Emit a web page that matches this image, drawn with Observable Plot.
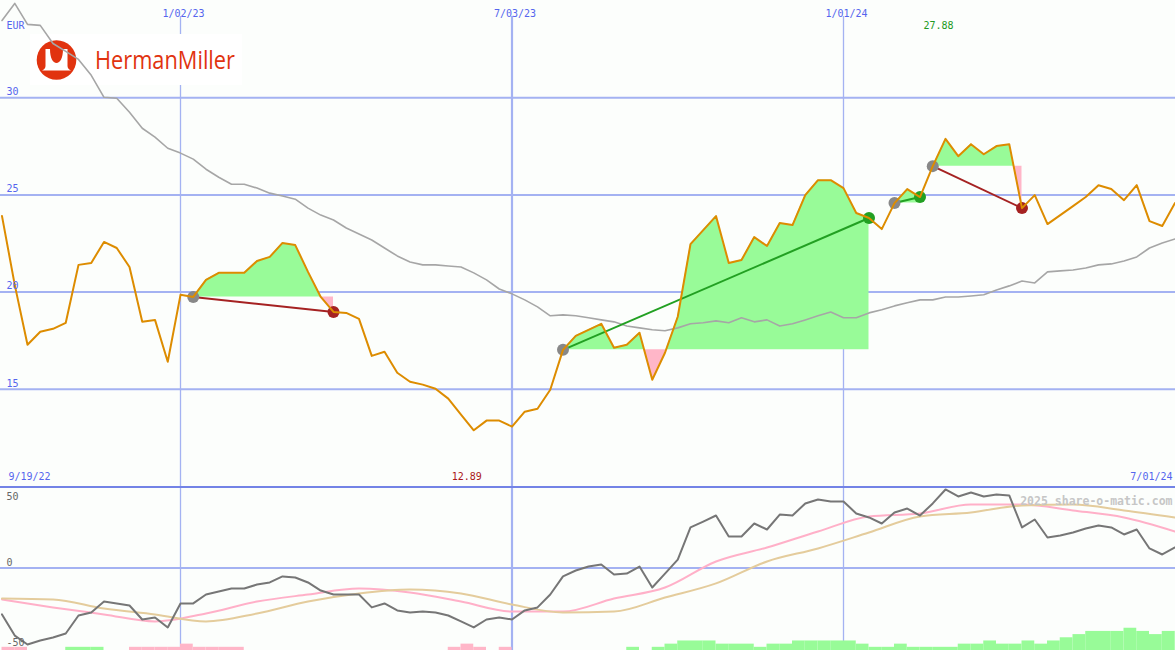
<!DOCTYPE html>
<html><head><meta charset="utf-8">
<script src="https://cdn.jsdelivr.net/npm/d3@7"></script>
<script src="https://cdn.jsdelivr.net/npm/@observablehq/plot@0.6"></script>
<style>
body{margin:0;background:#fcfefc;}
#chart{width:1175px;height:650px;overflow:hidden;background:#fcfefc;}
#chart svg{display:block;}
.sep{height:2px;background:#7383e6;}
</style></head><body><div id="chart"></div>
<script>
// ---- data (weekly, Mondays from 2022-09-26 to 2024-07-01) ----
const startMonday = "2022-09-26";
const price = [23.91,20.37,17.29,17.96,18.11,18.42,21.40,21.50,22.58,22.27,
21.29,18.47,18.57,16.42,19.86,19.75,20.63,20.99,20.99,20.99,
21.60,21.81,22.53,22.42,21.04,19.75,18.98,18.93,18.62,16.72,
16.93,15.85,15.39,15.24,15.03,14.52,13.70,12.89,13.39,13.39,
13.08,13.85,14.00,14.98,17.03,17.75,18.06,18.37,17.14,17.29,
17.91,15.49,16.88,18.73,22.47,23.19,23.91,21.50,21.65,22.83,
22.37,23.55,23.45,24.99,25.76,25.76,25.35,24.07,23.81,23.24,
24.58,25.30,24.89,26.48,27.88,26.99,27.61,27.09,27.51,27.61,
24.32,24.99,23.50,23.96,24.42,24.89,25.50,25.30,24.73,25.50,
23.65,23.40,24.58];
const movingAvg = [33.97,34.85,33.77,33.72,32.79,32.38,31.97,31.15,30.02,29.97,
29.25,28.43,27.97,27.40,27.15,26.84,26.32,25.91,25.55,25.55,
25.35,25.09,24.94,24.78,24.32,23.96,23.71,23.30,22.99,22.68,
22.27,21.86,21.55,21.40,21.40,21.34,21.29,20.99,20.63,20.16,
19.91,19.60,19.24,18.78,18.83,18.78,18.68,18.57,18.47,18.26,
18.16,18.06,18.01,18.16,18.37,18.42,18.52,18.42,18.68,18.47,
18.57,18.26,18.37,18.57,18.78,18.98,18.68,18.68,18.93,19.09,
19.29,19.45,19.60,19.60,19.75,19.75,19.80,19.86,20.11,20.32,
20.57,20.47,21.04,21.09,21.14,21.24,21.40,21.45,21.60,21.81,
22.27,22.53,22.73];
const oscillator = [-29.2,-42.5,-48.1,-45.6,-43.7,-41.2,-29.9,-28.0,-21.1,-22.3,
-23.6,-32.4,-31.1,-37.4,-22.3,-22.3,-16.7,-14.8,-12.9,-12.9,
-10.4,-9.1,-5.3,-6.0,-9.1,-14.2,-16.7,-16.7,-16.7,-24.8,
-22.3,-26.7,-28.0,-27.4,-28.0,-29.9,-33.6,-37.4,-32.4,-31.1,
-32.4,-26.7,-24.8,-16.7,-5.3,-1.6,0.9,2.2,-4.1,-3.5,
0.9,-12.3,-3.5,5.3,25.5,29.2,33.0,19.8,19.8,28.0,
24.2,33.6,33.0,40.6,43.1,41.8,41.8,34.3,31.8,28.0,
34.9,37.4,33.0,40.6,49.4,45.0,47.5,45.0,46.2,45.6,
25.5,30.5,19.2,20.4,22.3,24.8,26.7,25.5,21.1,24.2,
12.3,8.5,12.9];
const histogram = [-2,-2,0,0,0,2,2,2,0,0,
-2,-2,-2,-2,-4,-2,-2,-2,-2,0,
0,0,0,0,0,0,0,0,0,0,
0,0,0,0,0,-2,-4,-2,0,-2,
0,0,0,0,0,0,0,0,0,2,
0,2,4,6,6,6,4,4,4,2,
4,4,6,6,6,6,6,4,2,2,
4,2,2,2,2,4,4,6,4,4,
6,4,6,8,10,12,12,12,14,12,
10,12,12];
// smooth signal lines, read every 4 weeks
const pinkSignal = [-19.8,-24.8,-29.2,-33.6,-28.6,-21.1,-16.7,-12.9,-15.4,-21.1,-27.4,-27.4,-19.2,-12.3,4.1,12.9,23.0,32.4,34.3,39.9,39.9,36.2,31.8,23.0];
const tanSignal = [-19.2,-19.8,-25.5,-29.2,-33.6,-28.6,-21.1,-16.0,-13.5,-16.0,-23.0,-28.0,-27.4,-18.6,-9.7,4.1,12.3,22.3,32.4,34.9,39.3,39.9,36.2,31.8];
const tradeEntry = [15,44,70,73];   // week index of entry
const tradeExit  = [26,68,72,80];   // week index of exit
const xTicks = ["2023-01-02","2023-07-03","2024-01-01"];
const priceTicks = [15,20,25,30];
const oscTicks = [50,0,-50];
const rangeLabels = ["9/19/22","7/01/24"];

// ---- derived ----
const WEEK = 7*864e5;
const t0 = new Date(startMonday+"T00:00:00Z");
const dates = price.map((_,i)=>new Date(+t0 + i*WEEK));
const W = 1175, pxWeek = 12.75, x0px = 1.5;
const xDomain = [new Date(+t0 - x0px/pxWeek*WEEK), new Date(+t0 + (W-x0px)/pxWeek*WEEK)];
const tickDates = xTicks.map(s=>new Date(s+"T00:00:00Z"));
const fmt = d => `${d.getUTCMonth()+1}/${String(d.getUTCDate()).padStart(2,"0")}/${String(d.getUTCFullYear()).slice(2)}`;
const rows = dates.map((d,i)=>({date:d, price:price[i], ma:movingAvg[i], osc:oscillator[i], hist:histogram[i]}));
const smooth = pinkSignal.map((v,k)=>({date:dates[4*k], pink:v, tan:tanSignal[k]}));
const trades = tradeEntry.map((a,k)=>{const b=tradeExit[k];return {k,d1:dates[a],p1:price[a],d2:dates[b],p2:price[b],win:price[b]>price[a]};});
const fills = [];
trades.forEach((t,k)=>{
  const a=tradeEntry[k], b=tradeExit[k], base=price[a];
  for(let i=a;i<=b;i++){
    if(i>a){const q0=price[i-1]-base,q1=price[i]-base;
      if(q0*q1<0){const f=q0/(q0-q1);fills.push({k,date:new Date(+dates[i-1]+f*WEEK),v:base,base});}}
    fills.push({k,date:dates[i],v:price[i],base});
  }
});
const iMax = d3.maxIndex(price), iMin = d3.minIndex(price);

const BLUE="#5565ee", GRID="#a4b2f2", GREENF="#98fb98", PINKF="#ffb6c8", RED="#e1330f";
const FONT="DejaVu Sans Mono, monospace";

function logo(){
  const g = d3.create("svg:g");
  g.append("rect").attr("x",30).attr("y",34).attr("width",212).attr("height",51).attr("fill","#ffffff");
  g.append("circle").attr("cx",56.5).attr("cy",60).attr("r",19.8).attr("fill",RED);
  g.append("path").attr("d","M45.5,49 L50,49 C50,58 53,63 56.5,63 C60,63 63,58 63,49 L67.5,49 L67.5,66 C67.5,68 69,69.5 71,70.5 L42,70.5 C44,69.5 45.5,68 45.5,66 Z").attr("fill","#ffffff");
  g.append("text").attr("x",95).attr("y",68.5).attr("text-anchor","start").attr("font-family","Open Sans, Noto Sans, sans-serif")
    .attr("font-size",25).attr("textLength",140).attr("lengthAdjust","spacingAndGlyphs").attr("fill",RED).text("HermanMiller");
  return g.node();
}

const topChart = Plot.plot({
  width:W, height:486, margin:0,
  x:{type:"utc", domain:xDomain, axis:null},
  y:{domain:[10,35], axis:null},
  style:{background:"transparent", fontFamily:FONT, overflow:"hidden"},
  marks:[
    Plot.ruleY(priceTicks,{stroke:GRID, strokeWidth:2}),
    Plot.ruleX(tickDates.filter((d,i)=>i!==1),{x:d=>d, insetTop:16, stroke:GRID, strokeWidth:1.3}),
    Plot.ruleX(tickDates.filter((d,i)=>i===1),{x:d=>d, insetTop:16, stroke:GRID, strokeWidth:2.2}),
    logo,
    Plot.areaY(fills,{x:"date", y1:"base", y2:d=>Math.max(d.v,d.base), z:"k", fill:GREENF, curve:"linear"}),
    Plot.areaY(fills,{x:"date", y1:"base", y2:d=>Math.min(d.v,d.base), z:"k", fill:PINKF, curve:"linear"}),
    Plot.line(rows,{x:"date", y:"ma", stroke:"#a6a6a6", strokeWidth:1.6}),
    Plot.link(trades.filter(t=>t.win),{x1:"d1",y1:"p1",x2:"d2",y2:"p2",stroke:"#22a022",strokeWidth:2}),
    Plot.link(trades.filter(t=>!t.win),{x1:"d1",y1:"p1",x2:"d2",y2:"p2",stroke:"#a52222",strokeWidth:2}),
    Plot.dot(trades,{x:"d1",y:"p1",r:6,fill:"#888888"}),
    Plot.dot(trades.filter(t=>t.win),{x:"d2",y:"p2",r:6,fill:"#22a022"}),
    Plot.dot(trades.filter(t=>!t.win),{x:"d2",y:"p2",r:6,fill:"#a52222"}),
    Plot.line(rows,{x:"date", y:"price", stroke:"#dd8c00", strokeWidth:2}),
    Plot.text(tickDates,{x:d=>d, text:fmt, frameAnchor:"top", dy:9, dx:3, fill:BLUE, fontSize:10}),
    Plot.text(priceTicks,{y:d=>d, text:d=>String(d), frameAnchor:"left", textAnchor:"start", dx:6, dy:-6, fill:BLUE, fontSize:10}),
    Plot.text(["EUR"],{frameAnchor:"top-left", dx:6, dy:21, fill:BLUE, fontSize:10}),
    Plot.text([iMax],{x:i=>dates[i], text:i=>price[i].toFixed(2), frameAnchor:"top", dy:21, dx:-7, fill:"#229922", fontSize:10}),
    Plot.text([iMin],{x:i=>dates[i], text:i=>price[i].toFixed(2), frameAnchor:"bottom", dy:-7, dx:-7, fill:"#aa1818", fontSize:10}),
    Plot.text([rangeLabels[0]],{frameAnchor:"bottom-left", dx:8, dy:-7, fill:BLUE, fontSize:10}),
    Plot.text([rangeLabels[1]],{frameAnchor:"bottom-right", dx:-3, dy:-7, fill:BLUE, fontSize:10})
  ]
});

const oscMin = -51.9, oscMax = 50;
const bottomChart = Plot.plot({
  width:W, height:162, margin:0,
  x:{type:"utc", domain:xDomain, axis:null},
  y:{domain:[oscMin,oscMax], axis:null},
  style:{background:"transparent", fontFamily:FONT, overflow:"hidden"},
  marks:[
    Plot.ruleY([0],{stroke:GRID, strokeWidth:2}),
    Plot.ruleX(tickDates.filter((d,i)=>i!==1),{x:d=>d, stroke:GRID, strokeWidth:1.3}),
    Plot.ruleX(tickDates.filter((d,i)=>i===1),{x:d=>d, stroke:GRID, strokeWidth:2.2}),
    Plot.rect(rows.filter(d=>d.hist>0),{x1:"date", x2:d=>new Date(+d.date+WEEK), y1:oscMin, y2:d=>oscMin+d.hist, fill:GREENF}),
    Plot.rect(rows.filter(d=>d.hist<0),{x1:"date", x2:d=>new Date(+d.date+WEEK), y1:oscMin, y2:d=>oscMin-d.hist, fill:PINKF}),
    Plot.line(smooth,{x:"date", y:"pink", stroke:"#ffb0c8", strokeWidth:2, curve:"monotone-x"}),
    Plot.line(smooth,{x:"date", y:"tan", stroke:"#e4cc9c", strokeWidth:2, curve:"monotone-x"}),
    Plot.line(rows,{x:"date", y:"osc", stroke:"#767676", strokeWidth:2}),
    Plot.text(oscTicks.filter(v=>v>0),{y:d=>d, text:d=>String(d), frameAnchor:"left", textAnchor:"start", dx:6, dy:8, fill:"#666666", fontSize:10}),
    Plot.text(oscTicks.filter(v=>v<=0),{y:d=>d, text:d=>String(d), frameAnchor:"left", textAnchor:"start", dx:6, dy:-5, fill:"#666666", fontSize:10}),
    Plot.text(["2025 share-o-matic.com"],{frameAnchor:"top-right", dx:-3, dy:8, fill:"#c6c6c6", fontSize:11.5, fontWeight:"bold"})
  ]
});

const host = document.getElementById("chart");
host.append(topChart);
const sep = document.createElement("div"); sep.className="sep"; host.append(sep);
host.append(bottomChart);
</script>
</body></html>
